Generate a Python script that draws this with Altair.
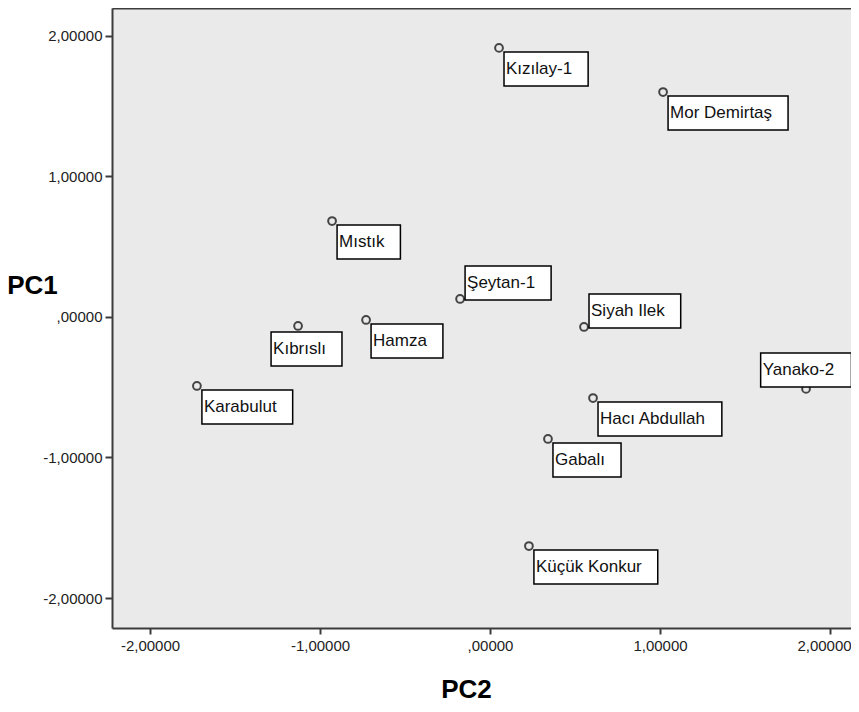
import altair as alt
import pandas as pd

# ---- data ----
names = ["Kızılay-1", "Mor Demirtaş", "Mıstık", "Şeytan-1", "Siyah Ilek", "Kıbrıslı",
         "Hamza", "Karabulut", "Yanako-2", "Hacı Abdullah", "Gabalı", "Küçük Konkur"]
pc2 = [0.053, 1.018, -0.929, -0.176, 0.553, -1.129, -0.729, -1.724, 1.859, 0.606, 0.341, 0.229]
pc1 = [1.915, 1.601, 0.683, 0.128, -0.071, -0.064, -0.021, -0.491, -0.512, -0.577, -0.868, -1.630]
tick_values = [-2, -1, 0, 1, 2]

# ---- layout / style ----
W, H = 739, 620
XDOM = [-2.2235, 2.1235]
YDOM = [-2.2135, 2.199]
FONT = "Liberation Sans"
LABEL_SIZE = 17
BOX_H = 34
BOX_PAD = 18
# label side for each point (SPSS style label placement)
side = {"Şeytan-1": "tr", "Siyah Ilek": "tr", "Kıbrıslı": "b", "Yanako-2": "t"}

# Arial / Liberation Sans advance widths (per 1000 em) for label-box sizing
ARIAL = {"K": 667, "ı": 278, "z": 500, "l": 222, "a": 556, "y": 500, "-": 333, "1": 556,
         "2": 556, "M": 833, "o": 556, "r": 333, " ": 278, "D": 722, "e": 556, "m": 833,
         "i": 222, "t": 278, "ş": 500, "s": 500, "k": 500, "Ş": 667, "n": 556, "S": 667,
         "h": 556, "I": 278, "H": 722, "c": 500, "A": 667, "b": 556, "d": 556, "u": 556,
         "G": 778, "ü": 556, "ç": 500, "Y": 667}


def text_w(s):
    return sum(ARIAL.get(ch, 556) for ch in s) * LABEL_SIZE / 1000.0


pxx = W / (XDOM[1] - XDOM[0])
pxy = H / (YDOM[1] - YDOM[0])

rows = []
for n, x, y in zip(names, pc2, pc1):
    w = text_w(n) + BOX_PAD
    s = side.get(n, "br")
    if s == "br":
        left, top = 5, 4
    elif s == "tr":
        left, top = 5, 1 - BOX_H
    elif s == "b":
        left, top = -27, 6
    else:  # "t"
        left, top = -w / 2, -2 - BOX_H
    bx1 = x + left / pxx
    bx2 = bx1 + w / pxx
    by1 = y - top / pxy
    by2 = by1 - BOX_H / pxy
    rows.append(dict(name=n, pc2=x, pc1=y, bx1=bx1, bx2=bx2, by1=by1, by2=by2,
                     tx=bx1 + 2 / pxx, ty=by1 - 22 / pxy))
df = pd.DataFrame(rows)

label_expr = ("datum.value == 0 ? ',00000' : "
              "replace(replace(format(datum.value, '.5f'), '.', ','), '\u2212', '-')")
xs = alt.Scale(domain=XDOM, nice=False, zero=False)
ys = alt.Scale(domain=YDOM, nice=False, zero=False)

xaxis = alt.Axis(values=tick_values, labelExpr=label_expr, title="PC2",
                 titleFontSize=26, titleFontWeight="bold", titleColor="black",
                 titleX=354, titleY=69, titleAlign="center", titleBaseline="alphabetic",
                 tickSize=6, labelPadding=4,
                 labelOffset={"condition": {"test": "datum.value == 2", "value": -6},
                              "value": 0})
yaxis = alt.Axis(values=tick_values, labelExpr=label_expr, title="PC1",
                 titleFontSize=26, titleFontWeight="bold", titleColor="black",
                 titleAngle=0, titleX=-80, titleY=277, titleAlign="center",
                 titleBaseline="middle", tickSize=7, labelPadding=3)

base = alt.Chart(df)

points = base.mark_point(shape="circle", filled=False, size=60, color="#444",
                         strokeWidth=2, opacity=1).encode(
    x=alt.X("pc2:Q", scale=xs, axis=xaxis),
    y=alt.Y("pc1:Q", scale=ys, axis=yaxis),
)

top_frame = base.mark_point(opacity=0).encode(
    x=alt.X("pc2:Q", scale=xs,
            axis=alt.Axis(orient="top", labels=False, ticks=False, title=None)),
    y=alt.Y("pc1:Q", scale=ys, axis=None),
)

boxes = base.mark_rect(fill="white", stroke="black", strokeWidth=1.5).encode(
    x=alt.X("bx1:Q", scale=xs, axis=None), x2="bx2:Q",
    y=alt.Y("by1:Q", scale=ys, axis=None), y2="by2:Q",
)

labels = base.mark_text(align="left", baseline="alphabetic", font=FONT,
                        fontSize=LABEL_SIZE, color="#111").encode(
    x=alt.X("tx:Q", scale=xs, axis=None),
    y=alt.Y("ty:Q", scale=ys, axis=None),
    text="name:N",
)

chart = alt.layer(top_frame, points, boxes, labels).resolve_axis(
    x="independent", y="independent"
).properties(
    width=W, height=H, autosize="none",
    padding={"left": 104, "top": 0, "right": 0, "bottom": 76},
).configure_view(
    fill="#eaeaea", stroke=None
).configure_axis(
    grid=False, domainColor="#3c3c3c", domainWidth=2, tickColor="#3c3c3c",
    tickWidth=2, labelFont=FONT, labelFontSize=15, labelColor="#222",
    titleFont=FONT, labelFlush=False, labelOverlap=False,
)

chart.save("out.html", embed_options={"renderer": "svg", "actions": False})
